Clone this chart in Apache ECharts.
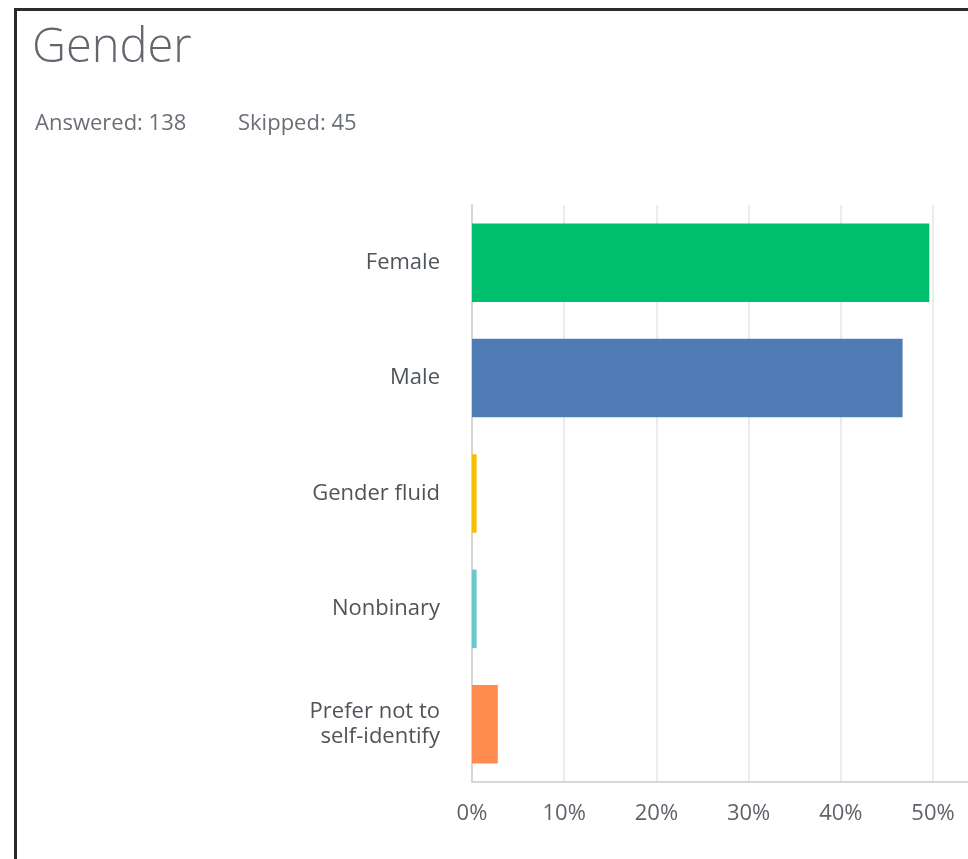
<!DOCTYPE html>
<html>
<head>
<meta charset="utf-8">
<script src="https://cdn.jsdelivr.net/npm/echarts@6/dist/echarts.min.js"></script>
<style>
html,body{margin:0;padding:0;background:#fff;width:968px;height:859px;overflow:hidden;}
#frame{position:absolute;left:14px;top:8px;width:960px;height:860px;border-left:3px solid #2a2a2a;border-top:3px solid #2a2a2a;box-sizing:border-box;}
#chart{position:absolute;left:0;top:0;width:968px;height:859px;}
</style>
</head>
<body>
<div id="frame"></div>
<div id="chart"></div>
<script>
const titleText = 'Gender';
const answered = 138;
const skipped = 45;
const categories = ['Female', 'Male', 'Gender fluid', 'Nonbinary', 'Prefer not to\nself-identify'];
const percents = [49.6, 46.7, 0.5, 0.5, 2.8];
const barColors = ['#00bf6f', '#507cb6', '#f9be00', '#6bc8cd', '#ff8b4f'];
const tickValues = [0, 10, 20, 30, 40, 50];

const chart = echarts.init(document.getElementById('chart'), null, {renderer: 'canvas'});
const font = '"Open Sans", sans-serif';
chart.setOption({
  backgroundColor: 'transparent',
  animation: false,
  title: [
    {text: titleText, left: 32, top: 25, padding: 0, textStyle: {fontFamily: font, fontSize: 47, fontWeight: 300, color: '#62676d'}},
    {text: 'Answered: ' + answered, left: 35, top: 113, padding: 0,
     textStyle: {fontFamily: font, fontSize: 22, fontWeight: 400, color: '#6b7077'}},
    {text: 'Skipped: ' + skipped, left: 238, top: 113, padding: 0,
     textStyle: {fontFamily: font, fontSize: 22, fontWeight: 400, color: '#6b7077'}}
  ],
  grid: {left: 472, top: 205, bottom: 77, right: 35, outerBoundsMode: 'none', containLabel: false},
  xAxis: {
    type: 'value', min: 0, max: 50, interval: 10,
    axisLine: {show: false},
    axisTick: {show: false},
    splitLine: {show: true, lineStyle: {color: '#ececec', width: 2}},
    axisLabel: {formatter: v => tickValues.includes(v) ? v + '%' : '', fontFamily: font, fontSize: 22, color: '#5e6369', margin: 21}
  },
  yAxis: {
    type: 'category', data: categories, inverse: true,
    axisLine: {show: true, lineStyle: {color: '#d6d6d6', width: 2}},
    axisTick: {show: false},
    axisLabel: {fontFamily: font, fontSize: 22, color: '#4f5459', margin: 32, lineHeight: 25, align: 'right'}
  },
  series: [{
    type: 'bar',
    data: percents.map((v, i) => ({value: v, itemStyle: {color: barColors[i]}})),
    barCategoryGap: '32%'
  }],
  graphic: [{
    type: 'line', shape: {x1: 472, y1: 782, x2: 968, y2: 782},
    style: {stroke: '#d6d6d6', lineWidth: 2}, z: 10
  }]
});
</script>
</body>
</html>
